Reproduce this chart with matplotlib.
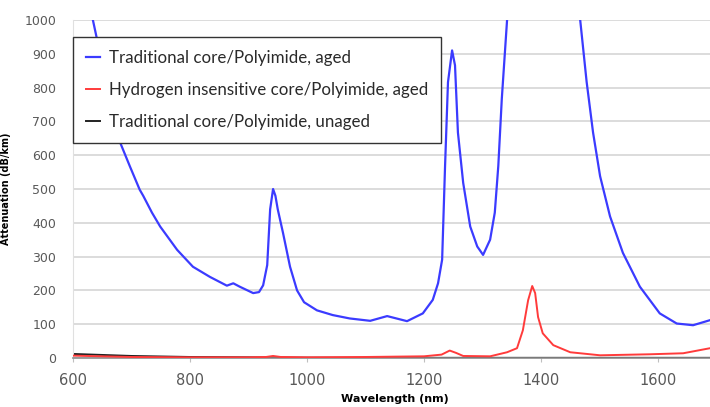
import matplotlib.pyplot as plt
from matplotlib.ticker import MultipleLocator

# wavelength (nm) / attenuation (dB/km)
aged_wl = [600, 615, 634, 655, 680, 697, 714, 720, 735, 749, 778, 805, 834, 863,
           874, 885, 908, 918, 925, 932, 937, 942, 946, 950, 959, 971, 983, 995,
           1017, 1044, 1073, 1108, 1137, 1171, 1198, 1215, 1224, 1231, 1236, 1241,
           1248, 1253, 1258, 1267, 1279, 1291, 1301, 1313, 1321, 1327, 1333, 1342,
           1355, 1400, 1450, 1467, 1478, 1489, 1501, 1518, 1540, 1569, 1603, 1632,
           1660, 1689, 1700]
aged_att = [1450, 1200, 1000, 830, 640, 568, 498, 480, 430, 389, 320, 270, 240, 214,
            221, 211, 192, 195, 215, 275, 440, 500, 480, 440, 370, 270, 200, 165,
            141, 127, 117, 110, 124, 109, 132, 172, 221, 291, 568, 816,
            910, 866, 667, 518, 389, 330, 305, 350, 430, 568, 767, 1000,
            1400, 2000, 1400, 1000, 817, 667, 538, 419, 311, 211, 132, 102,
            97, 112, 120]

h2_wl = [600, 650, 700, 800, 900, 930, 942, 955, 1000, 1100, 1200, 1230, 1244, 1255,
         1267, 1313, 1342, 1359, 1369, 1378, 1385, 1390, 1395, 1403, 1421, 1450,
         1501, 1586, 1643, 1689, 1700]
h2_att = [7, 5, 3, 2, 2, 3, 6, 3, 2, 3, 5, 10, 22, 15,
          6, 5, 17, 29, 82, 171, 213, 192, 121, 73, 38, 17,
          8, 11, 14, 29, 32]

unaged_wl = [600, 700, 800, 900, 1000, 1200, 1400, 1700]
unaged_att = [12, 6, 3, 2, 1, 0.5, 0.5, 0.5]

labels = ["Traditional core/Polyimide, aged",
          "Hydrogen insensitive core/Polyimide, aged",
          "Traditional core/Polyimide, unaged"]

fig = plt.figure(figsize=(7.1, 4.07), dpi=100)
# axes runs a bit past the right edge, like the cropped original
ax = fig.add_axes([73 / 710, 49 / 407, 643.5 / 710, 338 / 407])

l1, = ax.plot(aged_wl, aged_att, color="#3b3bff", lw=1.6, zorder=4)
l2, = ax.plot(h2_wl, h2_att, color="#ff3b3b", lw=1.4, zorder=3)
l3, = ax.plot(unaged_wl, unaged_att, color="#222222", lw=1.4, zorder=2)

ax.set_xlim(600, 1700)
ax.set_ylim(0, 1000)
ax.xaxis.set_major_locator(MultipleLocator(200))
ax.yaxis.set_major_locator(MultipleLocator(100))
ax.grid(axis="y", color="#d9d9d9", lw=1.3)
ax.set_axisbelow(True)

for side in ["top", "right"]:
    ax.spines[side].set_visible(False)
ax.spines["left"].set_color("#e0e0e0")
ax.spines["bottom"].set_color("#8c8c8c")
ax.spines["bottom"].set_linewidth(1.2)
ax.tick_params(axis="y", length=0, labelsize=9, labelcolor="#595959", pad=12)
ax.tick_params(axis="x", length=3, color="#bfbfbf", labelsize=10.5,
               labelcolor="#595959", pad=8)

ax.set_xlabel("Wavelength (nm)", fontsize=8, fontweight="bold", labelpad=4)
ax.set_ylabel("Attenuation (dB/km)", fontsize=7, fontweight="bold", labelpad=10)

leg = ax.legend([l1, l2, l3], labels, loc="upper left",
                bbox_to_anchor=(0.0, 0.95), borderaxespad=0,
                prop={"family": "Lato", "size": 12.2},
                handlelength=0.85, handletextpad=0.5, labelspacing=0.95,
                borderpad=0.75, fancybox=False, framealpha=1)
leg.get_frame().set_edgecolor("#333333")
leg.get_frame().set_linewidth(1.0)
for t in leg.get_texts():
    t.set_color("#2a2a2a")

fig.savefig("out.png", dpi=100)
